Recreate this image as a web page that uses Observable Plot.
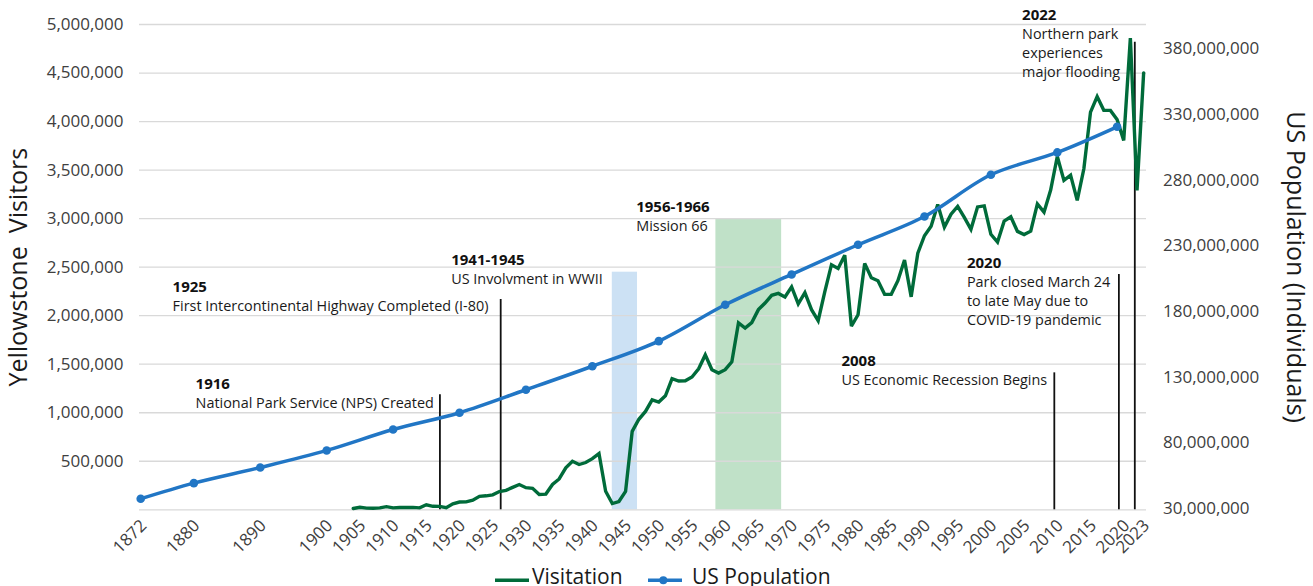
<!DOCTYPE html>
<html>
<head>
<meta charset="utf-8">
<script src="https://cdn.jsdelivr.net/npm/d3@7"></script>
<script src="https://cdn.jsdelivr.net/npm/@observablehq/plot@0.6"></script>
<style>
html, body { margin: 0; padding: 0; background: #fff; overflow: hidden; width: 1313px; height: 586px; }
#chart svg { display: block; }
#legend { position: relative; height: 26px; width: 1313px; font-family: 'Open Sans', sans-serif; font-size: 21px; color: #1a1a1a; }
#legend .item { position: absolute; top: 0; display: flex; align-items: center; }
</style>
</head>
<body>
<div id="chart"></div>
<div id="legend"></div>
<script>
// ---- Data ----
const visitation = [
  [1904, 13727], [1905, 26188], [1906, 17182], [1907, 16414], [1908, 19542], [1909, 32545],
  [1910, 19575], [1911, 23054], [1912, 22970], [1913, 24929], [1914, 20250], [1915, 51895],
  [1916, 35849], [1917, 35400], [1918, 21275], [1919, 62261], [1920, 79777], [1921, 81651],
  [1922, 98223], [1923, 138352], [1924, 144158], [1925, 154282], [1926, 187807], [1927, 200825],
  [1928, 230984], [1929, 260697], [1930, 227901], [1931, 221248], [1932, 157624], [1933, 161938],
  [1934, 260775], [1935, 317998], [1936, 432570], [1937, 499242], [1938, 466185], [1939, 486936],
  [1940, 526437], [1941, 579696], [1942, 191830], [1943, 64144], [1944, 85347], [1945, 189264],
  [1946, 807917], [1947, 932501], [1948, 1013531], [1949, 1133432], [1950, 1109926], [1951, 1175060],
  [1952, 1350289], [1953, 1326858], [1954, 1328855], [1955, 1368515], [1956, 1453000], [1957, 1595875],
  [1958, 1442899], [1959, 1408667], [1960, 1443288], [1961, 1524094], [1962, 1925291], [1963, 1872417],
  [1964, 1929316], [1965, 2062476], [1966, 2130255], [1967, 2210023], [1968, 2229557], [1969, 2193448],
  [1970, 2297290], [1971, 2120462], [1972, 2236465], [1973, 2061573], [1974, 1948160], [1975, 2246827],
  [1976, 2525118], [1977, 2487104], [1978, 2623141], [1979, 1892509], [1980, 2009581], [1981, 2538848],
  [1982, 2390000], [1983, 2360000], [1984, 2220000], [1985, 2220000], [1986, 2360000], [1987, 2572690],
  [1988, 2194000], [1989, 2644442], [1990, 2823572], [1991, 2920536], [1992, 3144405], [1993, 2912193],
  [1994, 3046145], [1995, 3125285], [1996, 3012171], [1997, 2889513], [1998, 3120830], [1999, 3131381],
  [2000, 2838233], [2001, 2758526], [2002, 2973677], [2003, 3019375], [2004, 2868317], [2005, 2835651],
  [2006, 2870295], [2007, 3151343], [2008, 3066580], [2009, 3295187], [2010, 3640184], [2011, 3394326],
  [2012, 3447729], [2013, 3188030], [2014, 3513484], [2015, 4097710], [2016, 4257177], [2017, 4116524],
  [2018, 4115000], [2019, 4020288], [2020, 3806306], [2021, 4860242], [2022, 3290242], [2023, 4501382]
];

const popYears  = [1872, 1880, 1890, 1900, 1910, 1920, 1930, 1940, 1950, 1960, 1970, 1980, 1990, 2000, 2010, 2019];
const popValues = [37.4e6, 49.3e6, 61.2e6, 74.2e6, 90.1e6, 102.9e6, 120.4e6, 138.3e6, 157.4e6, 185.1e6, 208.2e6, 230.8e6, 252.3e6, 284.1e6, 301.1e6, 320.6e6];

const xTicks = [1872, 1880, 1890, 1900, 1905, 1910, 1915, 1920, 1925, 1930, 1935, 1940, 1945, 1950, 1955, 1960, 1965, 1970, 1975, 1980, 1985, 1990, 1995, 2000, 2005, 2010, 2015, 2020, 2023];
const leftTicks = [500000, 1000000, 1500000, 2000000, 2500000, 3000000, 3500000, 4000000, 4500000, 5000000];
const gridValues = [0, 500000, 1000000, 1500000, 2000000, 2500000, 3000000, 3500000, 4000000, 4500000, 5000000];
const rightTicks = [30e6, 80e6, 130e6, 180e6, 230e6, 280e6, 330e6, 380e6];

// shaded periods (positions)
const periods = [
  {x1: 1943.0, x2: 1946.8, top: 2448000, fill: "#cce1f4"},
  {x1: 1958.6, x2: 1968.5, top: 3000000, fill: "#c0e1c8"}
];

// event marker lines (positions)
const eventLines = [
  {x: 1917.05, top: 1185000},
  {x: 1926.2, top: 2167000},
  {x: 2009.55, top: 1411000},
  {x: 2019.27, top: 2424000},
  {x: 2021.67, top: 4818000}
];

// annotation blocks: anchor = left edge / baseline of the bold heading
const notes = [
  {x: 1880.26, y: 1242000, head: "1916", body: "National Park Service (NPS) Created"},
  {x: 1876.8, y: 2242000, head: "1925", body: "First Intercontinental Highway Completed (I-80)"},
  {x: 1918.75, y: 2517000, head: "1941-1945", body: "US Involvment in WWII"},
  {x: 1946.6, y: 3073000, head: "1956-1966", body: "Mission 66"},
  {x: 1977.5, y: 1479000, head: "2008", body: "US Economic Recession Begins"},
  {x: 1996.4, y: 2496000, head: "2020", body: "Park closed March 24\nto late May due to\nCOVID-19 pandemic"},
  {x: 2004.7, y: 5051000, head: "2022", body: "Northern park\nexperiences\nmajor flooding"}
];

// ---- secondary axis mapping ----
const P0 = 29.0e6, P1 = 398.5e6, Y1 = 5e6;
const toLeft = p => (p - P0) * Y1 / (P1 - P0);
const fromLeft = v => v * (P1 - P0) / Y1 + P0;

const visits = visitation.map(([year, value]) => ({year, value}));
const population = popYears.map((year, i) => ({year, value: popValues[i]}));

const green = "#006b3a";
const blue = "#2176c5";
const fmt = d3.format(",");

const chart = Plot.plot({
  width: 1313,
  height: 560,
  marginLeft: 139,
  marginRight: 167,
  marginTop: 24,
  marginBottom: 50.7,
  x: {domain: [1871.82, 2023.43]},
  y: {domain: [0, 5e6]},
  style: {fontFamily: "'Open Sans', sans-serif", fontSize: "17px", color: "#404040", background: "white", overflow: "visible"},
  marks: [
    Plot.rect(periods, {x1: "x1", x2: "x2", y1: 0, y2: "top", fill: "fill"}),
    Plot.ruleY(gridValues, {stroke: "#d9d9d9", strokeWidth: 1.3}),
    Plot.axisY(leftTicks, {tickSize: 0, tickPadding: 16, tickFormat: fmt, fontSize: 17, label: null}),
    Plot.axisY(rightTicks.map(toLeft), {anchor: "right", tickSize: 0, tickPadding: 16.5, fontSize: 17, label: null,
      tickFormat: d => fmt(Math.round(fromLeft(d) / 1e6) * 1e6)}),
    Plot.axisX(xTicks, {tickSize: 0, tickPadding: 13, dx: 3, tickRotate: -45, tickFormat: d => String(d), fontSize: 17, label: null}),
    Plot.ruleX(eventLines, {x: "x", y1: 0, y2: "top", stroke: "#111", strokeWidth: 1.8}),
    Plot.line(visits, {x: "year", y: "value", stroke: green, strokeWidth: 3.4, strokeLinejoin: "miter", strokeMiterlimit: 3}),
    Plot.line(population, {x: "year", y: d => toLeft(d.value), stroke: blue, strokeWidth: 3.5, curve: "catmull-rom"}),
    Plot.dot(population, {x: "year", y: d => toLeft(d.value), r: 4.3, fill: blue, stroke: null}),
    Plot.text(notes, {x: "x", y: "y", text: "head", textAnchor: "start", lineAnchor: "bottom", fontWeight: "bold", fontSize: 15, fill: "#111"}),
    Plot.text(notes, {x: "x", y: "y", text: "body", textAnchor: "start", lineAnchor: "top", lineHeight: 19 / 14.4, dy: 5.5, fontSize: 14.4, fill: "#1a1a1a"}),
    Plot.text(["Yellowstone\u00a0 Visitors"], {frameAnchor: "left", textAnchor: "middle", dx: -120.3, rotate: -90, fontSize: 25, fill: "#1a1a1a"}),
    Plot.text(["US Population (Individuals)"], {frameAnchor: "right", textAnchor: "middle", dx: 148, rotate: 90, fontSize: 25, fill: "#1a1a1a"})
  ]
});
document.getElementById("chart").appendChild(chart);

// ---- legend ----
const legend = document.getElementById("legend");
legend.innerHTML = `
  <div class="item" style="left:495px;">
    <svg width="34" height="26"><line x1="0" x2="34" y1="19.3" y2="19.3" stroke="${green}" stroke-width="3.5"/></svg>
    <span style="margin-left:3px; position:relative; top:2px;">Visitation</span>
  </div>
  <div class="item" style="left:648px;">
    <svg width="34" height="26"><line x1="0" x2="34" y1="19.3" y2="19.3" stroke="${blue}" stroke-width="3.5"/><circle cx="15.3" cy="19.3" r="4" fill="${blue}"/></svg>
    <span style="margin-left:10px; position:relative; top:2px;">US Population</span>
  </div>`;
</script>
</body>
</html>
